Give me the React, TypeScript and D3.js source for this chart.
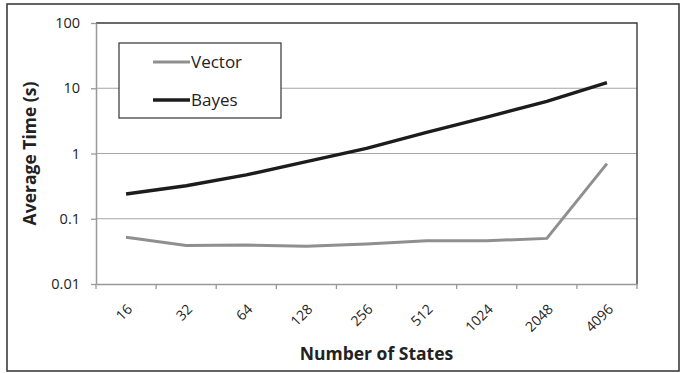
import { useEffect, useRef } from 'react';
import * as d3 from 'd3';

const states = ['16', '32', '64', '128', '256', '512', '1024', '2048', '4096'];
const vectorTimes = [0.052, 0.039, 0.0395, 0.038, 0.041, 0.046, 0.046, 0.05, 0.7];
const bayesTimes = [0.24, 0.32, 0.47, 0.75, 1.2, 2.1, 3.6, 6.3, 12.2];
const yTicks = [0.01, 0.1, 1, 10, 100];
const yTickLabels = ['0.01', '0.1', '1', '10', '100'];

const W = 680;
const H = 373;
const FONT = '"Open Sans", "Noto Sans", sans-serif';

export default function App() {
  const svgRef = useRef<SVGSVGElement>(null);

  useEffect(() => {
    if (!svgRef.current) return;
    const svg = d3.select(svgRef.current);
    svg.selectAll('*').remove();

    const margin = { left: 96, top: 23, right: 43, bottom: 89 };
    const innerW = W - margin.left - margin.right;
    const innerH = H - margin.top - margin.bottom;

    // outer frame
    svg.append('rect')
      .attr('x', 7).attr('y', 4)
      .attr('width', W - 8).attr('height', H - 6)
      .attr('fill', '#fff')
      .attr('stroke', '#3c3c3c').attr('stroke-width', 1.6);

    const g = svg.append('g').attr('transform', `translate(${margin.left},${margin.top})`);

    const x = d3.scaleBand().domain(states).range([0, innerW]);
    const y = d3.scaleLog().domain([0.01, 100]).range([innerH, 0]);

    // grid
    g.selectAll('.grid')
      .data(yTicks.slice(1, -1))
      .enter().append('line')
      .attr('x1', 0).attr('x2', innerW)
      .attr('y1', d => y(d)).attr('y2', d => y(d))
      .attr('stroke', '#a6a6a6').attr('stroke-width', 1.2);

    // top & right border
    g.append('path')
      .attr('d', `M0,${y(100)}H${innerW}V${innerH}`)
      .attr('fill', 'none').attr('stroke', '#3a3a3a').attr('stroke-width', 1.4);

    // y axis
    const yAxis = g.append('g')
      .call(d3.axisLeft(y).tickValues(yTicks).tickFormat((_, i) => yTickLabels[i]).tickSize(5).tickSizeOuter(0));
    yAxis.select('.domain').attr('stroke', '#999').attr('stroke-width', 1.5);
    yAxis.selectAll('.tick line').attr('stroke', '#999').attr('stroke-width', 1.3);
    yAxis.selectAll('text')
      .attr('font-family', FONT).attr('font-size', 14.5).attr('fill', '#222')
      .attr('x', -16);

    // x axis
    const xAxis = g.append('g').attr('transform', `translate(0,${innerH})`)
      .call(d3.axisBottom(x).tickSize(0).tickSizeOuter(0));
    xAxis.select('.domain').attr('stroke', '#999').attr('stroke-width', 1.5);
    xAxis.selectAll('.tick text')
      .attr('font-family', FONT).attr('font-size', 14).attr('fill', '#222')
      .attr('text-anchor', 'end')
      .attr('dy', 0)
      .attr('transform', 'translate(5,24) rotate(-45)');
    xAxis.selectAll('.xt')
      .data(d3.range(states.length + 1))
      .enter().append('line')
      .attr('x1', i => i * x.bandwidth()).attr('x2', i => i * x.bandwidth())
      .attr('y1', 0).attr('y2', 5)
      .attr('stroke', '#999').attr('stroke-width', 1.3);

    const line = d3.line<number>()
      .x((_, i) => (x(states[i]) || 0) + x.bandwidth() / 2)
      .y(d => y(d));

    g.append('path').datum(vectorTimes)
      .attr('d', line).attr('fill', 'none')
      .attr('stroke', '#8f8f8f').attr('stroke-width', 3);
    g.append('path').datum(bayesTimes)
      .attr('d', line).attr('fill', 'none')
      .attr('stroke', '#1c1c1c').attr('stroke-width', 3.4);

    // legend
    const leg = svg.append('g').attr('transform', 'translate(119,43)');
    leg.append('rect').attr('width', 162).attr('height', 75)
      .attr('fill', '#fff').attr('stroke', '#333').attr('stroke-width', 1.2);
    const items = [
      { name: 'Vector', color: '#8f8f8f', w: 3 },
      { name: 'Bayes', color: '#1c1c1c', w: 3.4 },
    ];
    items.forEach((it, i) => {
      const cy = 19 + i * 38;
      leg.append('line').attr('x1', 34).attr('x2', 71).attr('y1', cy).attr('y2', cy)
        .attr('stroke', it.color).attr('stroke-width', it.w);
      leg.append('text').attr('x', 72).attr('y', cy).attr('dy', '0.35em')
        .attr('font-family', FONT).attr('font-size', 17).attr('fill', '#222')
        .text(it.name);
    });

    // titles
    svg.append('text')
      .attr('transform', `translate(36,${margin.top + innerH / 2}) rotate(-90)`)
      .attr('text-anchor', 'middle')
      .attr('font-family', FONT).attr('font-size', 17.5).attr('font-weight', 'bold').attr('fill', '#222')
      .text('Average Time (s)');
    svg.append('text')
      .attr('x', margin.left + innerW / 2 + 10).attr('y', 360)
      .attr('text-anchor', 'middle')
      .attr('font-family', FONT).attr('font-size', 17.5).attr('font-weight', 'bold').attr('fill', '#222')
      .text('Number of States');
  }, []);

  return (
    <svg
      ref={svgRef}
      width={W}
      height={H}
      style={{ position: 'absolute', left: 0, top: 0, background: '#fff' }}
    />
  );
}
